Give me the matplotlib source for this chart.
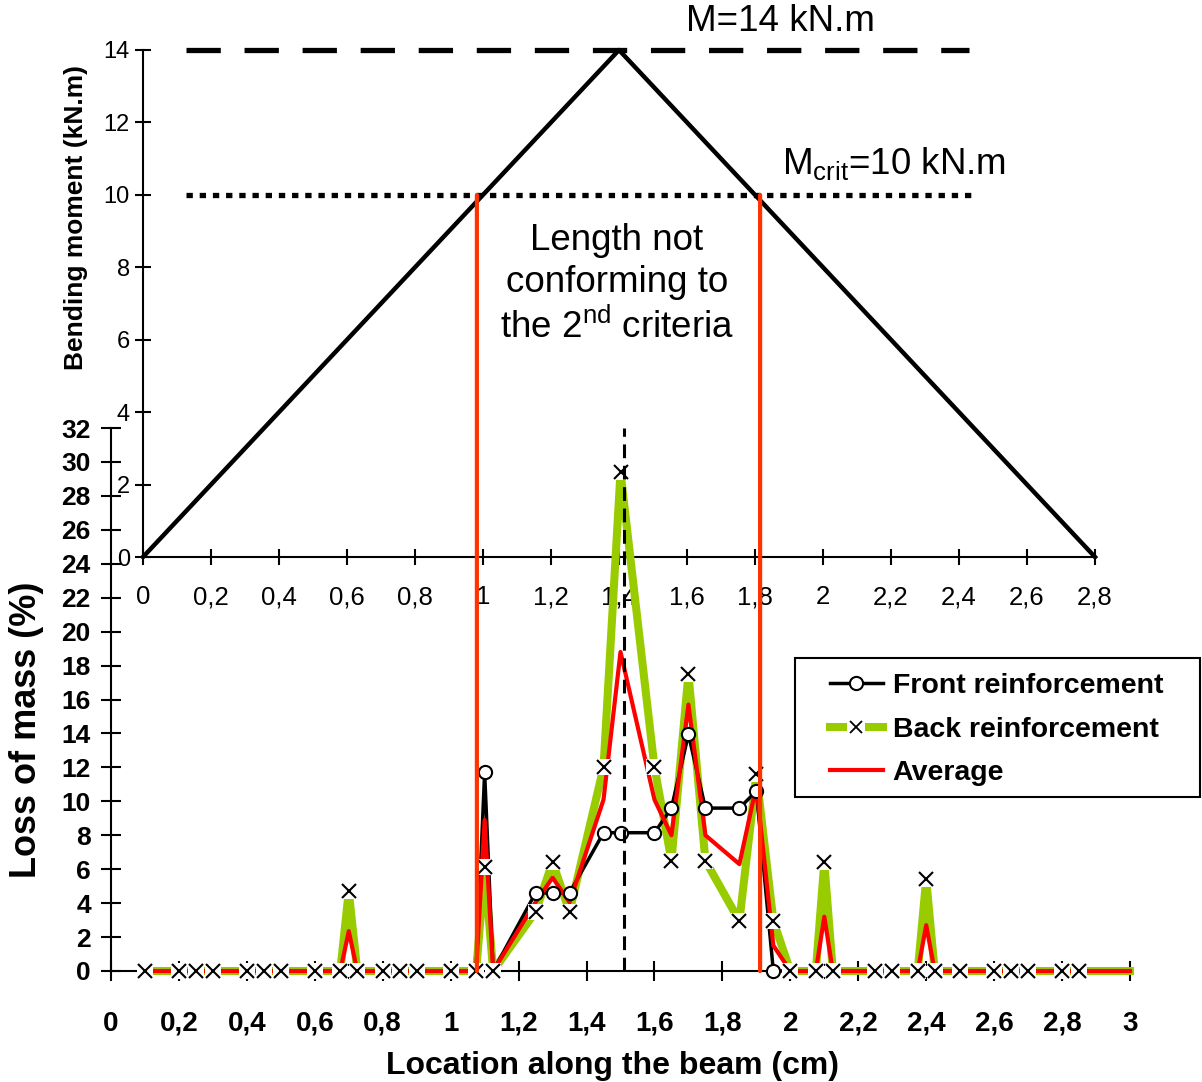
import matplotlib
matplotlib.use("Agg")
import matplotlib.pyplot as plt
import numpy as np
from matplotlib.lines import Line2D
from matplotlib.patches import ConnectionPatch, Rectangle
from matplotlib.ticker import FuncFormatter
from matplotlib.transforms import blended_transform_factory

plt.rcParams['font.family'] = ['Liberation Sans', 'DejaVu Sans']
plt.rcParams['mathtext.fontset'] = 'custom'
plt.rcParams['mathtext.rm'] = 'Liberation Sans'

# bending moment diagram (top chart)
moment_x = [0, 1.4, 2.8]
moment_y = [0, 14, 0]
M_MAX = 14
M_CRIT = 10
crit_x = [0.982, 1.815]   # limits of the non-conforming length

# loss of mass (bottom chart)
back_x = [0.1, 0.2, 0.25, 0.3, 0.4, 0.45, 0.5, 0.6, 0.675, 0.7, 0.725, 0.8,
          0.85, 0.9, 1.0, 1.075, 1.1, 1.125, 1.25, 1.3, 1.35, 1.45, 1.5, 1.6,
          1.65, 1.7, 1.75, 1.85, 1.9, 1.95, 2.0, 2.075, 2.1, 2.125, 2.25, 2.3,
          2.375, 2.4, 2.425, 2.5, 2.6, 2.65, 2.7, 2.8, 2.85, 3.0]
back_y = [0, 0, 0, 0, 0, 0, 0, 0, 0, 4.7, 0, 0,
          0, 0, 0, 0, 6.1, 0, 3.5, 6.4, 3.5, 12.0, 29.4, 12.0,
          6.5, 17.5, 6.5, 2.95, 11.6, 2.95, 0, 0, 6.4, 0, 0, 0,
          0, 5.4, 0, 0, 0, 0, 0, 0, 0, 0]

front_x = [0.2, 0.4, 0.6, 0.7, 0.8, 1.0, 1.075, 1.1, 1.125, 1.25, 1.3, 1.35,
           1.45, 1.5, 1.6, 1.65, 1.7, 1.75, 1.85, 1.9, 1.95, 2.0, 2.1, 2.4,
           2.6, 2.8]
front_y = [0, 0, 0, 0, 0, 0, 0, 11.7, 0, 4.6, 4.6, 4.6,
           8.15, 8.15, 8.15, 9.6, 13.95, 9.6, 9.6, 10.6, 0, 0, 0, 0,
           0, 0]

avg_x = back_x
avg_y = [0, 0, 0, 0, 0, 0, 0, 0, 0, 2.35, 0, 0,
         0, 0, 0, 0, 8.9, 0, 4.05, 5.5, 4.05, 10.1, 18.8, 10.1,
         8.0, 15.7, 8.0, 6.3, 10.9, 1.5, 0, 0, 3.2, 0, 0, 0,
         0, 2.7, 0, 0, 0, 0, 0, 0, 0, 0]
peak_line_x = 1.51

GREEN = '#99CC00'
RED = '#FF0000'
ORANGE = '#FF3300'
W, H = 1202, 1082

comma = FuncFormatter(lambda v, p: f"{v:g}".replace('.', ','))

fig = plt.figure(figsize=(W / 100, H / 100), dpi=100)
ax_bot = fig.add_axes([111 / W, 1 - 971 / H, 1019 / W, 543 / H])
ax_top = fig.add_axes([143 / W, 1 - 557 / H, 952 / W, 507 / H])
ax_top.set_zorder(0)
ax_bot.set_zorder(1)
for ax in (ax_top, ax_bot):
    ax.patch.set_visible(False)
    ax.spines[['top', 'right']].set_visible(False)
    ax.spines[['left', 'bottom']].set_linewidth(1.5)

# ---- top chart: bending moment
ax_top.plot(moment_x, moment_y, color='black', lw=3.2, clip_on=False)
ax_top.plot([0.126, 2.43], [M_MAX, M_MAX], color='black', lw=3.8,
            dashes=(6.5, 4.5), clip_on=False)
ax_top.plot([0.126, 2.44], [M_CRIT, M_CRIT], color='black', lw=3.8,
            dashes=(1.2, 1.3), clip_on=False)
ax_top.set_xlim(0, 2.8)
ax_top.set_ylim(0, 14)
ax_top.set_xticks(np.round(np.arange(0, 2.81, 0.2), 1))
ax_top.set_yticks(np.arange(0, 15, 2))
ax_top.xaxis.set_major_formatter(comma)
ax_top.tick_params(direction='inout', length=11, width=1.5)
ax_top.tick_params(axis='x', pad=15, labelsize=18.5)
ax_top.tick_params(axis='y', labelsize=17, pad=4)
ax_top.set_ylabel('Bending moment (kN.m)', fontsize=19, fontweight='bold')
ax_top.yaxis.set_label_coords(-0.058, 0.67)

ax_top.text(1.876, 14.8, 'M=14 kN.m', fontsize=26.5, ha='center', va='center')
ax_top.text(2.21, 10.85, r'M$_\mathregular{crit}$=10 kN.m', fontsize=26.5,
            ha='center', va='center')
ax_top.text(1.394, 7.52, 'Length not\nconforming to\n' + r'the 2$^\mathregular{nd}$ criteria',
            fontsize=26.5, ha='center', va='center', linespacing=1.27)

# ---- bottom chart: loss of mass
ax_bot.plot(back_x, back_y, color=GREEN, lw=5.8, zorder=2, clip_on=False,
            solid_joinstyle='bevel')
ax_bot.plot(front_x, front_y, color='black', lw=2.5, zorder=3, clip_on=False)
ax_bot.plot(avg_x, avg_y, color=RED, lw=3, zorder=4, clip_on=False)
ax_bot.plot(front_x, front_y, 'o', ms=9.5, mfc='white', mec='black', mew=1.5,
            ls='none', zorder=5, clip_on=False)
ax_bot.plot(back_x, back_y, 's', ms=11, color='white', mew=0, ls='none',
            zorder=6, clip_on=False, markevery=slice(0, -1))
ax_bot.plot(back_x, back_y, 'x', ms=10, mec='black', mew=1.5, ls='none',
            zorder=7, clip_on=False, markevery=slice(0, -1))
ax_bot.plot([peak_line_x, peak_line_x], [0, 32], color='black', lw=2.2,
            dashes=(4.5, 2.5), zorder=8, clip_on=False)

ax_bot.set_xlim(0, 3)
ax_bot.set_ylim(0, 32)
ax_bot.set_xticks(np.round(np.arange(0, 3.01, 0.2), 1))
ax_bot.set_yticks(np.arange(0, 33, 2))
ax_bot.xaxis.set_major_formatter(comma)
ax_bot.tick_params(direction='inout', length=15, width=1.5, labelsize=20)
ax_bot.tick_params(axis='x', pad=21)
ax_bot.tick_params(axis='y', pad=7, labelsize=19)
for lab in ax_bot.get_xticklabels() + ax_bot.get_yticklabels():
    lab.set_fontweight('bold')
ax_bot.set_xlabel('Location along the beam (cm)', fontsize=23, fontweight='bold')
ax_bot.xaxis.set_label_coords(0.4926, -0.147)
ax_bot.set_ylabel('Loss of mass (%)', fontsize=26, fontweight='bold')
ax_bot.yaxis.set_label_coords(-0.066, 0.444)

# red verticals bounding the length beyond M_crit, spanning both charts
to_bottom = blended_transform_factory(ax_top.transData, ax_bot.transData)
for cx in crit_x:
    con = ConnectionPatch(xyA=(cx, M_CRIT), coordsA=ax_top.transData,
                          xyB=(cx, 0), coordsB=to_bottom,
                          color=ORANGE, lw=3, zorder=9)
    fig.add_artist(con)

# legend: frame drawn separately, like the Excel box
frame = Rectangle((795 / W, 1 - 797 / H), 405 / W, 139 / H,
                  transform=fig.transFigure, facecolor='white',
                  edgecolor='black', lw=1.5, zorder=9, clip_on=False)
ax_bot.add_patch(frame)
h_front = Line2D([], [], color='black', lw=2.5, marker='o', ms=9.5,
                 mfc='white', mec='black', mew=1.5)
h_back = (Line2D([], [], color=GREEN, lw=5.8),
          Line2D([], [], marker='s', ms=13, color='white', mew=0, ls='none'),
          Line2D([], [], marker='x', ms=9, mec='black', mew=1.3, ls='none'))
h_avg = Line2D([], [], color=RED, lw=3)
leg = ax_bot.legend([h_front, h_back, h_avg],
                    ['Front reinforcement', 'Back reinforcement', 'Average'],
                    loc='upper left', bbox_to_anchor=(830 / W, 1 - 673 / H),
                    bbox_transform=fig.transFigure, borderaxespad=0,
                    borderpad=0, frameon=False,
                    prop={'weight': 'bold', 'size': 20.5},
                    handlelength=1.85, handletextpad=0.35, labelspacing=0.62)
leg.set_zorder(10)

fig.savefig('out.png', dpi=100)
